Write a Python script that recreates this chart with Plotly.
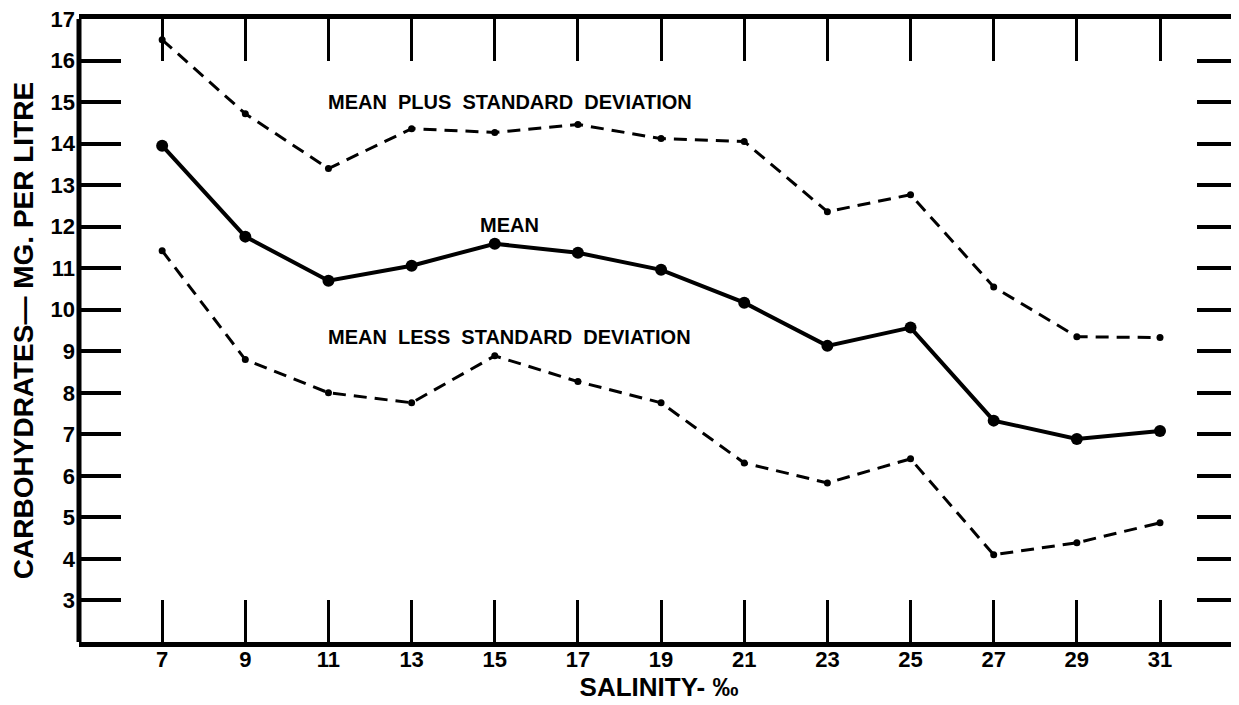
import plotly.graph_objects as go

salinity = [7, 9, 11, 13, 15, 17, 19, 21, 23, 25, 27, 29, 31]
mean_plus_sd = [16.5, 14.72, 13.4, 14.36, 14.27, 14.46, 14.12, 14.05, 12.36, 12.77, 10.55, 9.35, 9.33]
mean_vals = [13.95, 11.76, 10.7, 11.06, 11.59, 11.37, 10.96, 10.17, 9.13, 9.57, 7.33, 6.89, 7.08]
mean_less_sd = [11.42, 8.8, 8.0, 7.76, 8.89, 8.27, 7.76, 6.31, 5.83, 6.41, 4.1, 4.39, 4.87]

x_tick_vals = salinity
x_tick_text = ["7", "9", "11", "13", "15", "17", "19", "21", "23", "25", "27", "29", "31"]
y_tick_vals = list(range(3, 18))
y_tick_text = [str(v) for v in y_tick_vals]

FONT = "Liberation Sans"

fig = go.Figure()
fig.add_trace(go.Scatter(
    x=salinity, y=mean_plus_sd, mode="lines+markers",
    line=dict(color="black", width=3, dash="13px,8px"),
    marker=dict(color="black", size=7), name="Mean plus standard deviation"))
fig.add_trace(go.Scatter(
    x=salinity, y=mean_vals, mode="lines+markers",
    line=dict(color="black", width=4),
    marker=dict(color="black", size=12), name="Mean"))
fig.add_trace(go.Scatter(
    x=salinity, y=mean_less_sd, mode="lines+markers",
    line=dict(color="black", width=3, dash="13px,8px"),
    marker=dict(color="black", size=7), name="Mean less standard deviation"))

lab_font = dict(family=FONT, size=20, color="black")
fig.add_annotation(x=10.95, y=14.99, text="<b>MEAN  PLUS  STANDARD  DEVIATION</b>",
                   showarrow=False, xanchor="left", yanchor="middle", font=lab_font)
fig.add_annotation(x=15.36, y=12.05, text="<b>MEAN</b>",
                   showarrow=False, xanchor="center", yanchor="middle", font=lab_font)
fig.add_annotation(x=10.95, y=9.35, text="<b>MEAN  LESS  STANDARD  DEVIATION</b>",
                   showarrow=False, xanchor="left", yanchor="middle", font=lab_font)

# left axis line
fig.add_shape(type="line", xref="paper", yref="paper", x0=0, x1=0, y0=0, y1=1,
              line=dict(color="black", width=5))

fig.update_layout(
    width=1231, height=697,
    margin=dict(l=71, r=0, t=11, b=63),
    plot_bgcolor="white", paper_bgcolor="white",
    showlegend=False,
    font=dict(family=FONT, color="black"),
    xaxis=dict(
        range=[5, 32.9], tickmode="array", tickvals=x_tick_vals, ticktext=x_tick_text,
        ticks="inside", ticklen=42, tickwidth=3, tickcolor="black",
        showline=True, linewidth=5, linecolor="black", mirror="ticks",
        showgrid=False, zeroline=False, ticklabelstandoff=-6,
        tickfont=dict(family=FONT, size=22, color="black", weight="bold"),
        title=dict(text="<b>SALINITY- ‰</b>", font=dict(family=FONT, size=26, color="black"), standoff=4),
    ),
    yaxis=dict(
        range=[2, 17], tickmode="array", tickvals=y_tick_vals, ticktext=y_tick_text,
        ticks="inside", ticklen=42, tickwidth=3.5, tickcolor="black",
        showline=False, mirror="ticks", ticklabeloverflow="allow",
        showgrid=False, zeroline=False, ticklabelstandoff=3,
        tickfont=dict(family=FONT, size=22, color="black", weight="bold"),
        title=dict(text="<b>CARBOHYDRATES— MG. PER LITRE</b>", font=dict(family=FONT, size=28, color="black"), standoff=8),
    ),
)

fig.write_html("out.html")
